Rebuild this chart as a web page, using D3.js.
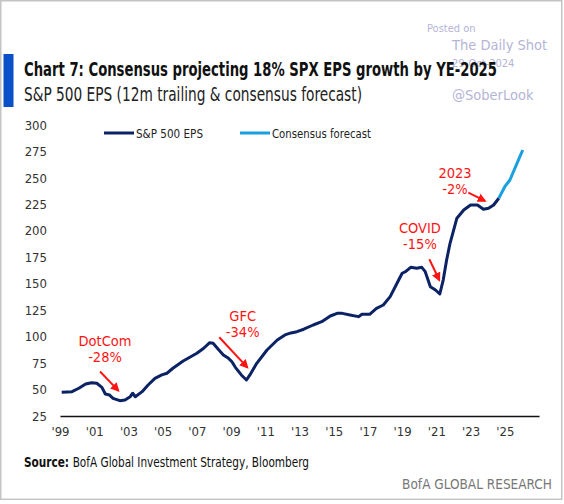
<!DOCTYPE html>
<html>
<head>
<meta charset="utf-8">
<script src="https://cdn.jsdelivr.net/npm/d3@7"></script>
<style>
  body { margin: 0; background: #fff; }
  svg text { font-family: "Liberation Sans Narrow", "DejaVu Sans Condensed", "Roboto", sans-serif; }
</style>
</head>
<body>
<div id="chart"></div>
<script>
// Donnees (annee decimale, BPA)
const epsDates = [1999.1, 1999.7, 2000.1, 2000.5, 2000.85, 2001.15, 2001.45, 2001.65, 2001.9, 2002.1,
  2002.5, 2002.8, 2003.1, 2003.25, 2003.4, 2003.8, 2004.15, 2004.55, 2004.95, 2005.25,
  2005.6, 2006.2, 2007.0, 2007.4, 2007.75, 2007.95, 2008.25, 2008.55, 2008.85, 2009.05,
  2009.25, 2009.6, 2009.9, 2010.1, 2010.5, 2011.1, 2011.7, 2012.15, 2012.5, 2012.85,
  2013.25, 2013.8, 2014.3, 2014.8, 2015.2, 2015.5, 2015.95, 2016.45, 2016.65, 2017.1,
  2017.5, 2017.9, 2018.3, 2018.7, 2019.0, 2019.2, 2019.5, 2019.85, 2020.15, 2020.35,
  2020.65, 2020.95, 2021.2, 2021.4, 2021.6, 2021.8, 2022.2, 2022.6, 2023.0, 2023.4,
  2023.75, 2024.05, 2024.35, 2024.65];
const epsValues = [47.4, 48.0, 51.2, 55.2, 56.5, 55.9, 52.1, 45.8, 44.8, 41.7,
  39.5, 40.1, 43.2, 46.5, 43.2, 48.0, 54.3, 60.6, 63.8, 65.4,
  70.1, 77.0, 84.3, 89.0, 94.3, 93.7, 88.0, 82.7, 79.5, 76.3,
  71.0, 63.8, 59.0, 63.8, 74.8, 87.4, 96.8, 101.6, 103.5, 104.7,
  107.0, 111.0, 114.1, 119.5, 122.0, 122.0, 120.5, 118.9, 121.1, 121.1,
  126.8, 129.9, 137.8, 150.4, 159.9, 161.4, 165.5, 164.6, 165.5, 161.4,
  147.2, 144.1, 140.3, 153.5, 172.4, 188.2, 211.9, 219.7, 224.4, 224.4,
  220.4, 221.3, 224.4, 230.8];
const forecastDates = [2024.65, 2025.0, 2025.3, 2025.8, 2026.05];
const forecastValues = [230.8, 241.7, 248.0, 267.0, 276.4];

const yTicks = [25, 50, 75, 100, 125, 150, 175, 200, 225, 250, 275, 300];
const xTicks = [1999, 2001, 2003, 2005, 2007, 2009, 2011, 2013, 2015, 2017, 2019, 2021, 2023, 2025];

// annotations : texte, position du texte, fleche (debut -> fin) en coordonnees de donnees
const annotLabels = [["DotCom", "-28%"], ["GFC", "-34%"], ["COVID", "-15%"], ["2023", "-2%"]];
const annotText = [[2001.63, 91], [2009.68, 114.8], [2020.04, 197.5], [2022.09, 249.5]];
const annotArrow = [[[2001.34, 67], [2002.41, 49]], [[2008.31, 99.4], [2009.95, 71]],
  [[2020.59, 173.1], [2021.17, 153.5]], [[2022.87, 236], [2023.84, 228.2]]];

const W = 564, H = 504;
const navy = "#0b2265", sky = "#1a9fe0", red = "#ff1414";

const svg = d3.select("#chart")
    .append("svg")
    .attr("width", W)
    .attr("height", H);

// cadre gris
svg.append("rect")
    .attr("x", 0.75).attr("y", 0.75)
    .attr("width", 561).attr("height", 498.5)
    .attr("fill", "#fff")
    .attr("stroke", "#c4c4c4")
    .attr("stroke-width", 1.5);

// filigrane
const wm = svg.append("g").attr("fill", "#b4b4d6").style("font-family", "Liberation Sans, Arial, sans-serif");
wm.append("text").attr("x", 427).attr("y", 32).attr("font-size", 11).text("Posted on");
wm.append("text").attr("x", 452).attr("y", 50).attr("font-size", 14.5).text("The Daily Shot");
wm.append("text").attr("x", 452).attr("y", 67).attr("font-size", 11).text("29-Oct-2024");
wm.append("text").attr("x", 452).attr("y", 100).attr("font-size", 14.5).text("@SoberLook");

// barre bleue + titres
svg.append("rect").attr("x", 3.5).attr("y", 54).attr("width", 10).attr("height", 53).attr("fill", "#0a50c8");
svg.append("text")
    .attr("x", 24).attr("y", 76)
    .attr("font-size", 20).attr("font-weight", "bold").attr("fill", "#111")
    .attr("textLength", 473).attr("lengthAdjust", "spacingAndGlyphs")
    .text("Chart 7: Consensus projecting 18% SPX EPS growth by YE-2025");
svg.append("text")
    .attr("x", 24).attr("y", 101)
    .attr("font-size", 19).attr("fill", "#222")
    .attr("textLength", 338).attr("lengthAdjust", "spacingAndGlyphs")
    .text("S&P 500 EPS (12m trailing & consensus forecast)");

// Echelles
const x = d3.scaleLinear().domain([1999, 2027]).range([60, 539]);
const y = d3.scaleLinear().domain([25, 300]).range([416, 125]);

// Axe X
const gx = svg.append("g")
    .attr("transform", `translate(0, ${y(25)})`)
    .call(d3.axisBottom(x).tickValues(xTicks).tickSize(0).tickPadding(11)
        .tickFormat(d => "'" + String(d).slice(2)));
gx.select(".domain").attr("stroke", "#111").attr("stroke-width", 1.5);
gx.selectAll("text").attr("font-size", 13).attr("fill", "#333").style("font-family", null);

// Axe Y (labels seulement)
const gy = svg.append("g")
    .attr("transform", "translate(47, 0)")
    .call(d3.axisLeft(y).tickValues(yTicks).tickSize(0).tickPadding(0));
gy.select(".domain").remove();
gy.selectAll("text").attr("font-size", 13).attr("fill", "#333").style("font-family", null);

// Lignes
const line = d3.line().x(d => x(d[0])).y(d => y(d[1]));
svg.append("path")
    .datum(forecastDates.map((d, i) => [d, forecastValues[i]]))
    .attr("fill", "none").attr("stroke", sky).attr("stroke-width", 3)
    .attr("stroke-linejoin", "round")
    .attr("d", line);
svg.append("path")
    .datum(epsDates.map((d, i) => [d, epsValues[i]]))
    .attr("fill", "none").attr("stroke", navy).attr("stroke-width", 3)
    .attr("stroke-linejoin", "round")
    .attr("d", line);

// Legende
const legend = [["S&P 500 EPS", navy, 104, 67], ["Consensus forecast", sky, 240, 99]];
legend.forEach(function(l) {
    svg.append("line").attr("x1", l[2]).attr("x2", l[2] + 30).attr("y1", 133).attr("y2", 133)
        .attr("stroke", l[1]).attr("stroke-width", 3);
    svg.append("text").attr("x", l[2] + 32).attr("y", 138).attr("font-size", 13).attr("fill", "#222")
        .attr("textLength", l[3]).attr("lengthAdjust", "spacingAndGlyphs").text(l[0]);
});

// Annotations
svg.append("defs").append("marker")
    .attr("id", "arrow").attr("viewBox", "0 0 10 10")
    .attr("refX", 8).attr("refY", 5)
    .attr("markerWidth", 4.5).attr("markerHeight", 4.5)
    .attr("orient", "auto")
    .append("path").attr("d", "M0,0 L10,5 L0,10 z").attr("fill", red);

annotLabels.forEach(function(lab, i) {
    const t = svg.append("text")
        .attr("x", x(annotText[i][0])).attr("y", y(annotText[i][1]))
        .attr("text-anchor", "middle").attr("fill", red).attr("font-size", 14.5);
    t.append("tspan").attr("x", x(annotText[i][0])).text(lab[0]);
    t.append("tspan").attr("x", x(annotText[i][0])).attr("dy", 16).text(lab[1]);
    const a = annotArrow[i];
    svg.append("line")
        .attr("x1", x(a[0][0])).attr("y1", y(a[0][1]))
        .attr("x2", x(a[1][0])).attr("y2", y(a[1][1]))
        .attr("stroke", red).attr("stroke-width", 2)
        .attr("marker-end", "url(#arrow)");
});

// Source
const src = svg.append("text").attr("x", 24).attr("y", 467).attr("font-size", 13.5).attr("fill", "#111")
    .attr("textLength", 285).attr("lengthAdjust", "spacingAndGlyphs");
src.append("tspan").attr("font-weight", "bold").text("Source: ");
src.append("tspan").text("BofA Global Investment Strategy, Bloomberg");
svg.append("text").attr("x", 552).attr("y", 489).attr("text-anchor", "end")
    .attr("font-size", 13.5).attr("fill", "#777").text("BofA GLOBAL RESEARCH");
</script>
</body>
</html>
